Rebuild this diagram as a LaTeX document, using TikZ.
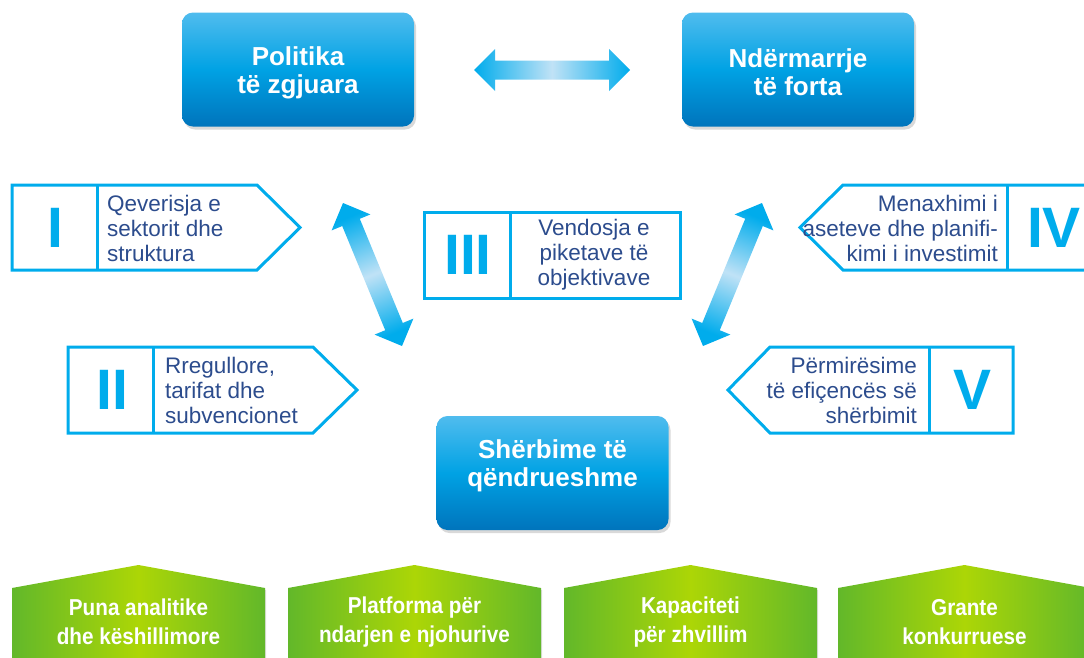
\documentclass[tikz,border=0pt]{standalone}
\usepackage{fontspec}
\setmainfont{Liberation Sans}
\newfontfamily\narrowfont[FakeStretch=0.9]{Liberation Sans}
\usetikzlibrary{calc,shadows}

\definecolor{boxblue}{RGB}{0,162,228}
\definecolor{boxlight}{RGB}{80,188,238}
\definecolor{boxdark}{RGB}{0,116,188}
\definecolor{lineblue}{RGB}{0,172,236}
\definecolor{arrowlight}{RGB}{192,226,246}
\definecolor{textblue}{RGB}{44,76,141}
\definecolor{limegreen}{RGB}{172,214,6}
\definecolor{leafgreen}{RGB}{98,184,42}

\newcommand{\fatarrow}[3]{%
  \coordinate (fa1) at ($(#1)!21pt!(#2)$);
  \coordinate (fa2) at ($(#2)!21pt!(#1)$);
  \path[fat arrow, shading angle=#3] (#1)
    -- ($(fa1)!21pt!-90:(#2)$) -- ($(fa1)!9.5pt!-90:(#2)$)
    -- ($(fa2)!9.5pt!90:(#1)$) -- ($(fa2)!21pt!90:(#1)$)
    -- (#2)
    -- ($(fa2)!21pt!-90:(#1)$) -- ($(fa2)!9.5pt!-90:(#1)$)
    -- ($(fa1)!9.5pt!90:(#2)$) -- ($(fa1)!21pt!90:(#2)$)
    -- cycle;}

\begin{document}
\begin{tikzpicture}[x=1pt, y=-1pt,
    main box/.style={rectangle, rounded corners=11pt, minimum width=232pt, minimum height=114pt,
        top color=boxlight, bottom color=boxdark, middle color=boxblue,
        drop shadow={opacity=0.3, shadow xshift=2pt, shadow yshift=-3pt}},
    main text/.style={text=white, align=center, font=\fontsize{26}{28}\selectfont\bfseries},
    outline/.style={draw=lineblue, line width=3pt},
    numeral/.style={text=lineblue, inner sep=0pt, font=\fontsize{57}{57}\selectfont\bfseries},
    body/.style={text=textblue, inner sep=0pt, font=\fontsize{22.5}{25}\selectfont},
    fat arrow/.style={left color=lineblue, right color=lineblue, middle color=arrowlight},
    green house/.style={left color=leafgreen, right color=leafgreen, middle color=limegreen,
        drop shadow={opacity=0.25, shadow xshift=1pt, shadow yshift=-2pt}},
    green text/.style={text=white, align=center, font=\narrowfont\fontsize{23}{29}\selectfont\bfseries}]

                \useasboundingbox (0, 0) rectangle (1084, 657);
                \clip (0, 0) rectangle (1084, 657);

                \node[main box] at (298, 69.5) (pol) {};
                \node[main text] at (298, 73) (poltxt) {Politika\\të zgjuara};
                \node[main box] at (798, 69.5) (ndr) {};
                \node[main text] at (798, 72) (ndrtxt) {Ndërmarrje\\të forta};
                \node[main box] at (552.5, 473) (sher) {};
                \node[main text] at (552.5, 466) (shertxt) {Shërbime të\\qëndrueshme};

                \coordinate (h1) at (474, 70);
                \coordinate (h2) at (630, 70);
                \coordinate (l1) at (343, 203);
                \coordinate (l2) at (402, 346);
                \coordinate (r1) at (762, 203);
                \coordinate (r2) at (703, 346);

                \fatarrow{h1}{h2}{90}
                \fatarrow{l1}{l2}{22.4}
                \fatarrow{r1}{r2}{-22.4}

                % pillar boxes
                \draw[outline] (12, 185) -- (257, 185) -- (300, 227.5) -- (257, 270) -- (12, 270) -- cycle;
                \draw[outline] (97, 185) -- (97, 270);
                \node[numeral] at (55, 228) (n1) {I};
                \node[body, anchor=west, align=left] at (107, 228) (t1) {Qeverisja e\\sektorit dhe\\struktura};

                \draw[outline] (68, 347) -- (313, 347) -- (357, 390) -- (313, 433) -- (68, 433) -- cycle;
                \draw[outline] (153, 347) -- (153, 433);
                \node[numeral] at (112, 390) (n2) {II};
                \node[body, anchor=west, align=left] at (165, 390) (t2) {Rregullore,\\tarifat dhe\\subvencionet};

                \draw[outline] (424, 212) rectangle (680, 298);
                \draw[outline] (510, 212) -- (510, 298);
                \node[numeral] at (468, 255) (n3) {III};
                \node[body, align=center] at (594, 255) (t3) {Vendosja e\\piketave të\\objektivave};

                \draw[outline] (1095, 185) -- (843, 185) -- (800, 227.5) -- (843, 270) -- (1095, 270) -- cycle;
                \draw[outline] (1007, 185) -- (1007, 270);
                \node[numeral] at (1054, 228) (n4) {IV};
                \node[body, anchor=east, align=right] at (998, 228) (t4) {Menaxhimi i\\aseteve dhe planifi-\\kimi i investimit};

                \draw[outline] (1013, 347) -- (770, 347) -- (728, 390) -- (770, 433) -- (1013, 433) -- cycle;
                \draw[outline] (929, 347) -- (929, 433);
                \node[numeral] at (972, 390) (n5) {V};
                \node[body, anchor=east, align=right] at (917, 390) (t5) {Përmirësime\\të efiçencës së\\shërbimit};

                % instruments
                \foreach \cx/\txt [count=\i] in {138.5/{Puna analitike\\dhe këshillimore},
                        414.5/{Platforma për\\ndarjen e njohurive},
                        690.5/{Kapaciteti\\për zhvillim},
                        964.5/{Grante\\konkurruese}} {
                    \path[green house] (\cx-126.5, 588) -- (\cx, 565) -- (\cx+126.5, 588)
                        -- (\cx+126.5, 665) -- (\cx-126.5, 665) -- cycle;
                    \node[green text] at (\cx, 622) (g\i) {\txt};
                }

            \end{tikzpicture}
\end{document}
